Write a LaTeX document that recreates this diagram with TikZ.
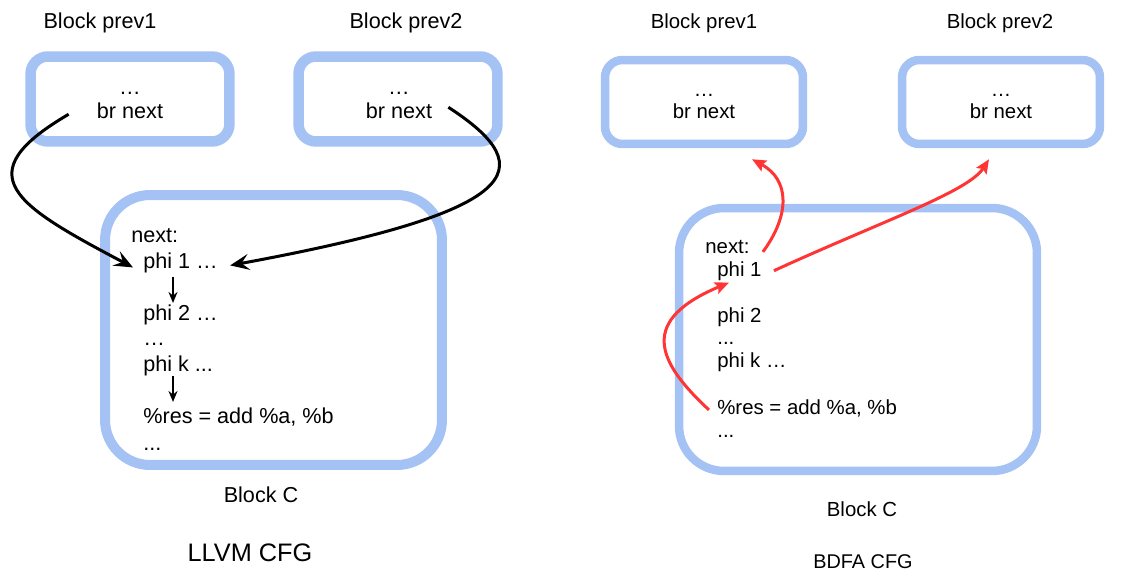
\documentclass[tikz,border=0pt]{standalone}
\usepackage{fontspec}
\setmainfont{Liberation Sans}
\usetikzlibrary{arrows.meta,calc}
\definecolor{blkblue}{HTML}{A4C2F4}
\definecolor{arrred}{HTML}{FF3434}

\begin{document}
\begin{tikzpicture}[x=0.02cm,y=-0.02cm,
    txtA/.style={inner sep=0pt, font=\fontsize{12.3}{14}\selectfont},
    txtB/.style={inner sep=0pt, font=\fontsize{11.6}{14}\selectfont},
    prevA/.style={draw=blkblue, line width=0.21cm, rounded corners=0.35cm, minimum width=3.98cm, minimum height=1.7cm},
    prevB/.style={draw=blkblue, line width=0.17cm, rounded corners=0.35cm, minimum width=3.96cm, minimum height=1.68cm},
    jump/.style={line width=0.06cm, -{Stealth[length=0.38cm,width=0.32cm,inset=0.15cm]}},
    flow/.style={line width=0.045cm, -{Stealth[length=0.22cm,width=0.18cm]}},
    dep/.style={arrred, line width=0.06cm, -{Stealth[length=0.28cm,width=0.24cm,inset=0.05cm]}}]
  \useasboundingbox (0,0) rectangle (1129,587);

  % LLVM CFG
  \node [txtA, anchor=base](labA1) at (100,29) {Block prev1};
  \node [txtA, anchor=base](labA2) at (406,29) {Block prev2};
  \node [prevA](boxA1) at (130,99) {};
  \node [prevA](boxA2) at (398,99) {};
  \node [txtA, anchor=base](dotA1) at (130,95) {…};
  \node [txtA, anchor=base](brA1) at (130,119) {br next};
  \node [txtA, anchor=base](dotA2) at (399,95) {…};
  \node [txtA, anchor=base](brA2) at (399,119) {br next};

  \node [draw=blkblue, line width=0.2cm, rounded corners=0.9cm, minimum width=6.74cm, minimum height=5.4cm](boxAC) at (273.5,330) {};
  \node [txtA, anchor=base west](nextA) at (131,243) {next:};
  \node [txtA, anchor=base west](phiA1) at (143,269) {phi 1 …};
  \node [txtA, anchor=base west](phiA2) at (143,321) {phi 2 …};
  \node [txtA, anchor=base west](dotA3) at (143,346) {…};
  \node [txtA, anchor=base west](phiAk) at (143,372) {phi k ...};
  \node [txtA, anchor=base west](resA) at (143,423) {\%res = add \%a, \%b};
  \node [txtA, anchor=base west](dotA4) at (143,450) {...};
  \node [txtA, anchor=base](labAC) at (261,502) {Block C};
  \node [inner sep=0pt, anchor=base, font=\fontsize{14.4}{16}\selectfont](titleA) at (250,561) {LLVM CFG};

  \draw [jump] ($(brA1.west)+(-28,3)$) .. controls (-35,175) and (15,205) .. ($(phiA1.west)+(-10,4)$);
  \draw [jump] ($(brA2.east)+(16,-4)$) .. controls (545,170) and (520,212) .. ($(phiA1.east)+(12,2)$);
  \draw [flow] ($(phiA1.south west)+(30,3)$) -- ($(phiA2.north west)+(30,-2)$);
  \draw [flow] ($(phiAk.south west)+(30,-1)$) -- ($(resA.north west)+(30,-5)$);

  % BDFA CFG
  \node [txtB, anchor=base](labB1) at (704,29) {Block prev1};
  \node [txtB, anchor=base](labB2) at (1000,29) {Block prev2};
  \node [prevB](boxB1) at (704,102) {};
  \node [prevB](boxB2) at (1001,102) {};
  \node [txtB, anchor=base](dotB1) at (704,97) {…};
  \node [txtB, anchor=base](brB1) at (704,119) {br next};
  \node [txtB, anchor=base](dotB2) at (1001,97) {…};
  \node [txtB, anchor=base](brB2) at (1001,119) {br next};

  \node [draw=blkblue, line width=0.17cm, rounded corners=0.9cm, minimum width=7.16cm, minimum height=5.26cm](boxBC) at (858,339.5) {};
  \node [txtB, anchor=base west](nextB) at (705,254) {next:};
  \node [txtB, anchor=base west](phiB1) at (717,277) {phi 1};
  \node [txtB, anchor=base west](phiB2) at (717,323) {phi 2};
  \node [txtB, anchor=base west](dotB3) at (717,345) {...};
  \node [txtB, anchor=base west](phiBk) at (717,368) {phi k …};
  \node [txtB, anchor=base west](resB) at (717,415) {\%res = add \%a, \%b};
  \node [txtB, anchor=base west](dotB4) at (717,438) {...};
  \node [txtB, anchor=base](labBC) at (862,516) {Block C};
  \node [inner sep=0pt, anchor=base, font=\fontsize{11.3}{13}\selectfont](titleB) at (863,568) {BDFA CFG};

  \draw [dep] ($(phiB1.north east)+(1,-10)$) .. controls (790,215) and (790,180) .. ($(boxB1.south)+(48,11)$);
  \draw [dep] ($(phiB1.east)+(12,-1)$) .. controls (880,222) and (968,192) .. ($(boxB2.south)+(-12,11)$);
  \draw [dep] ($(resB.west)+(-8,1)$) .. controls (655,360) and (640,320) .. ($(phiB1.south west)+(12,1)$);
\end{tikzpicture}
\end{document}
